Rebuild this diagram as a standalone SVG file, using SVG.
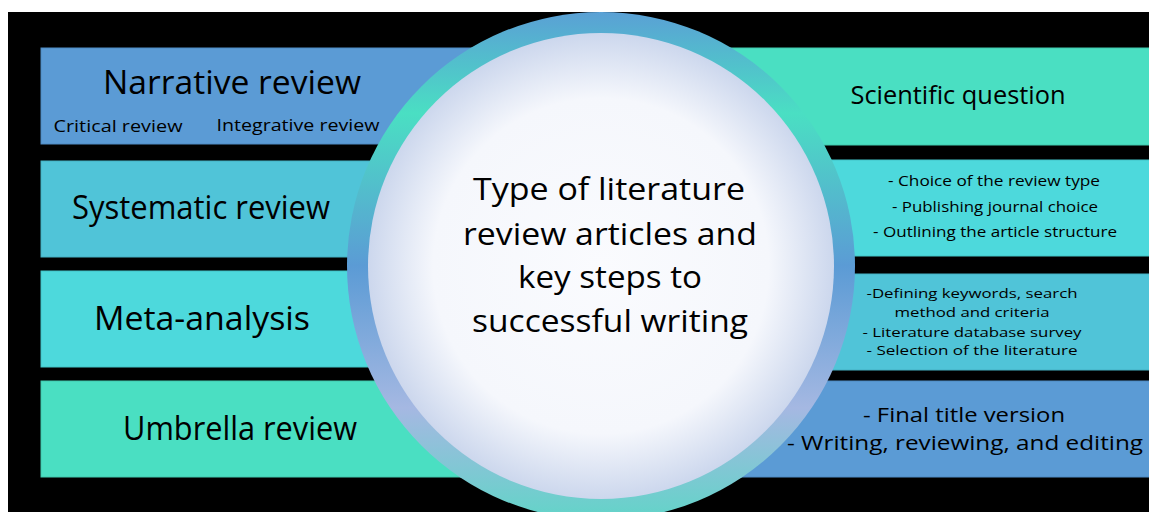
<svg xmlns="http://www.w3.org/2000/svg" width="1149" height="512" viewBox="0 0 1149 512">
  <defs>
    <style>
      text { font-family: "Open Sans", "Liberation Sans", sans-serif; fill: #000; text-anchor: middle; }
      .bar { stroke-width: 1; }
      .c1 { fill: #5B9BD5; stroke: #4F8BC4; }
      .c2 { fill: #50C4D8; stroke: #45B1C4; }
      .c3 { fill: #4DD9DC; stroke: #43C4C7; }
      .c4 { fill: #4ADFC2; stroke: #40C9AE; }
      .big { font-size: 32px; }
      .small { font-size: 17px; }
      .mid { font-size: 15px; }
      .mid2 { font-size: 13.5px; }
      .low { font-size: 20px; }
    </style>
    <linearGradient id="ring" x1="0" y1="0" x2="0" y2="1">
      <stop offset="0" stop-color="#5AA0D5"/>
      <stop offset="0.2" stop-color="#4ADFC3"/>
      <stop offset="0.5" stop-color="#5B9BD5"/>
      <stop offset="0.78" stop-color="#A5B8E2"/>
      <stop offset="1" stop-color="#62D4C8"/>
    </linearGradient>
    <radialGradient id="core" cx="0.5" cy="0.5" r="0.5">
      <stop offset="0" stop-color="#FAFBFE"/>
      <stop offset="0.72" stop-color="#F5F7FC"/>
      <stop offset="1" stop-color="#CCD7ED"/>
    </radialGradient>
  </defs>

  <rect x="0" y="0" width="1149" height="512" fill="#FFFFFF"/>
  <rect x="8" y="12" width="1141" height="500" fill="#000000"/>

  <g id="narrative-review">
    <rect class="bar c1" x="41" y="48" width="560" height="96"/>
    <text class="big" x="232" y="94" textLength="258" lengthAdjust="spacingAndGlyphs">Narrative review</text>
    <text class="small" x="118" y="132" textLength="129" lengthAdjust="spacingAndGlyphs">Critical review</text>
    <text class="small" x="298" y="131" textLength="163" lengthAdjust="spacingAndGlyphs">Integrative review</text>
  </g>
  <g id="systematic-review">
    <rect class="bar c2" x="41" y="161" width="560" height="96"/>
    <text class="big" x="201" y="219" textLength="258" lengthAdjust="spacingAndGlyphs">Systematic review</text>
  </g>
  <g id="meta-analysis">
    <rect class="bar c3" x="41" y="271" width="560" height="96"/>
    <text class="big" x="202" y="330" textLength="216" lengthAdjust="spacingAndGlyphs">Meta-analysis</text>
  </g>
  <g id="umbrella-review">
    <rect class="bar c4" x="41" y="381" width="560" height="96"/>
    <text class="big" x="240" y="440" textLength="234" lengthAdjust="spacingAndGlyphs">Umbrella review</text>
  </g>

  <g id="scientific-question">
    <rect class="bar c4" x="601" y="48" width="549" height="97"/>
    <text style="font-size:25px" x="958" y="104" textLength="215" lengthAdjust="spacingAndGlyphs">Scientific question</text>
  </g>
  <g id="planning">
    <rect class="bar c3" x="601" y="160" width="549" height="96"/>
    <text class="mid" x="994" y="186" textLength="212" lengthAdjust="spacingAndGlyphs">- Choice of the review type</text>
    <text class="mid" x="995" y="212" textLength="206" lengthAdjust="spacingAndGlyphs">- Publishing journal choice</text>
    <text class="mid" x="995" y="237" textLength="244" lengthAdjust="spacingAndGlyphs">- Outlining the article structure</text>
  </g>
  <g id="literature-search">
    <rect class="bar c2" x="601" y="274" width="549" height="96"/>
    <text class="mid2" x="972" y="298" textLength="211" lengthAdjust="spacingAndGlyphs">-Defining keywords, search</text>
    <text class="mid2" x="972" y="317" textLength="155" lengthAdjust="spacingAndGlyphs">method and criteria</text>
    <text class="mid2" x="972" y="337" textLength="219" lengthAdjust="spacingAndGlyphs">- Literature database survey</text>
    <text class="mid2" x="972" y="355" textLength="211" lengthAdjust="spacingAndGlyphs">- Selection of the literature</text>
  </g>
  <g id="writing">
    <rect class="bar c1" x="601" y="381" width="549" height="96"/>
    <text class="low" x="964" y="422" textLength="202" lengthAdjust="spacingAndGlyphs">- Final title version</text>
    <text class="low" x="965" y="450" textLength="356" lengthAdjust="spacingAndGlyphs">- Writing, reviewing, and editing</text>
  </g>

  <g id="center">
    <circle cx="601" cy="266" r="254" fill="url(#ring)"/>
    <circle cx="601" cy="266" r="233" fill="url(#core)"/>
    <text style="font-size:31px" x="609" y="200" textLength="272" lengthAdjust="spacingAndGlyphs">Type of literature</text>
    <text style="font-size:31px" x="610" y="245" textLength="294" lengthAdjust="spacingAndGlyphs">review articles and</text>
    <text style="font-size:31px" x="610" y="288" textLength="184" lengthAdjust="spacingAndGlyphs">key steps to</text>
    <text style="font-size:31px" x="610" y="332" textLength="276" lengthAdjust="spacingAndGlyphs">successful writing</text>
  </g>

  <g id="connectors"></g>
</svg>
